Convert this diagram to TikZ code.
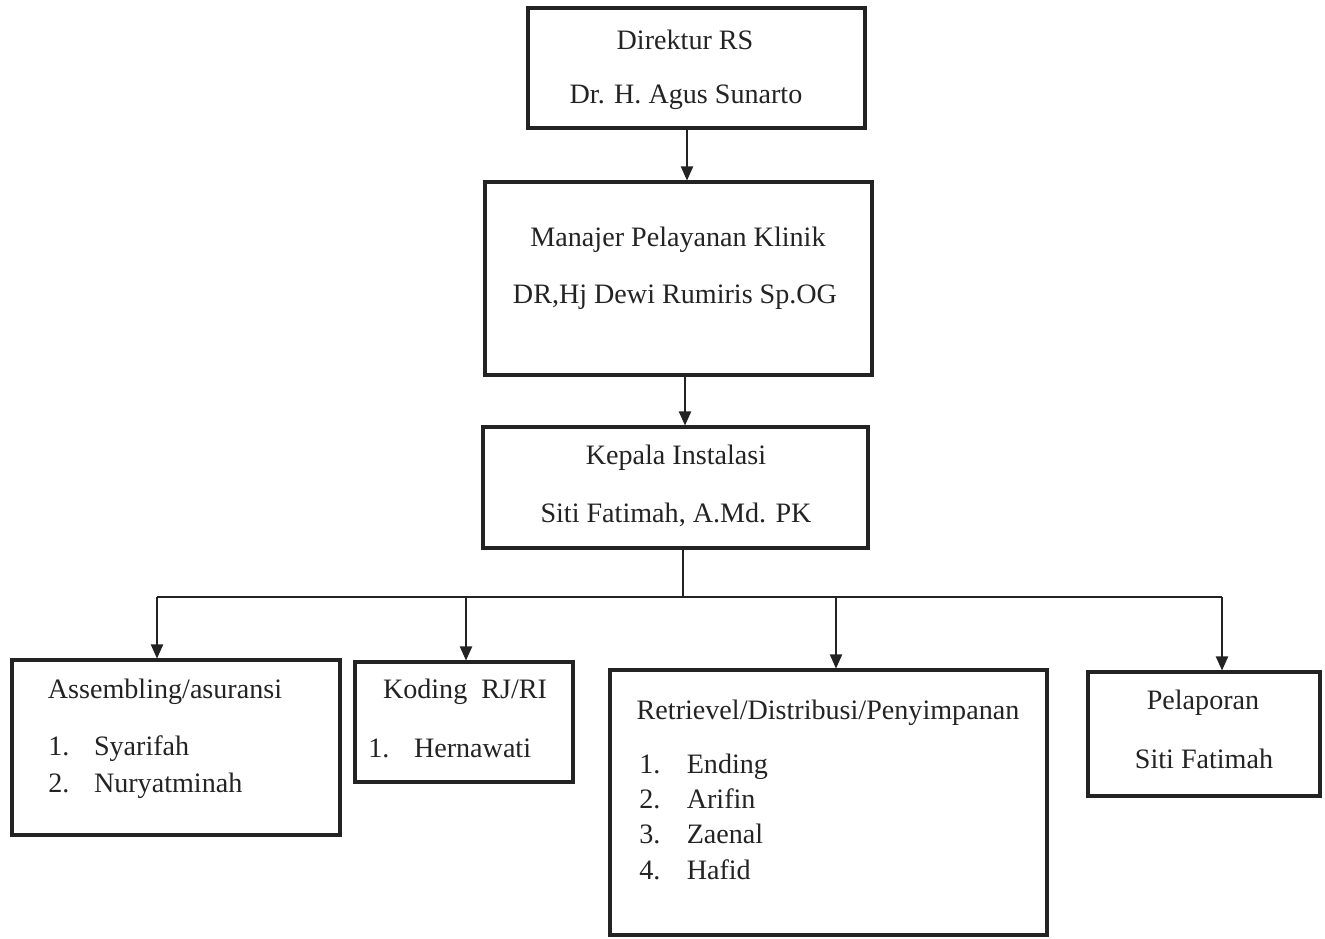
\documentclass[tikz,border=0pt]{standalone}
\usepackage{fontspec}
\setmainfont{Liberation Serif}
\usetikzlibrary{arrows.meta}
\definecolor{ink}{RGB}{35,35,35}
\tikzset{
  box/.style={draw=ink,line width=1.8pt,inner sep=0pt},
  txt/.style={text=ink,inner sep=0pt,font=\fontsize{16}{21}\selectfont},
  wire/.style={draw=ink,line width=0.8pt}
}
\begin{document}
\begin{tikzpicture}[x=0.02cm,y=-0.02cm,>={Triangle[length=8pt,width=7pt]}]
\useasboundingbox (0,0) rectangle (1325,938);
% boxes
\node[box,minimum width=6.74cm,minimum height=2.40cm] (dir) at (696.5,68) {};
\node[box,minimum width=7.74cm,minimum height=3.86cm] (man) at (678.5,278.5) {};
\node[box,minimum width=7.70cm,minimum height=2.42cm] (kep) at (675.5,487.5) {};
\node[box,minimum width=6.56cm,minimum height=3.50cm] (asm) at (176,747.5) {};
\node[box,minimum width=4.36cm,minimum height=2.40cm] (kod) at (464,722) {};
\node[box,minimum width=8.74cm,minimum height=5.30cm] (ret) at (828.5,802.5) {};
\node[box,minimum width=4.64cm,minimum height=2.48cm] (pel) at (1204,734) {};
% texts
\node[txt] (dirA) at (685,40) {Direktur RS};
\node[txt] (dirB) at (686,97) {Dr. H. Agus Sunarto};
\node[txt] (manA) at (678,240) {Manajer Pelayanan Klinik};
\node[txt] (manB) at (675,297) {DR,Hj Dewi Rumiris Sp.OG};
\node[txt] (kepA) at (676,458) {Kepala Instalasi};
\node[txt] (kepB) at (676,515) {Siti Fatimah, A.Md. PK};
\node[txt] (asmA) at (165,692) {Assembling/asuransi};
\node[txt,anchor=west] (asmB) at (48,767) {%
  \begin{tabular}{@{}l@{\hspace{14pt}}l@{}}
  1. & Syarifah\\
  2. & Nuryatminah
  \end{tabular}};
\node[txt] (kodA) at (465,692) {Koding\ \ RJ/RI};
\node[txt,anchor=west] (kodB) at (368,748) {1.\hspace{14pt}Hernawati};
\node[txt] (retA) at (828,713) {Retrievel/Distribusi/Penyimpanan};
\node[txt,anchor=west] (retB) at (639,819) {%
  \begin{tabular}{@{}l@{\hspace{15pt}}l@{}}
  1. & Ending\\[-1pt]
  2. & Arifin\\[-1pt]
  3. & Zaenal\\[-1pt]
  4. & Hafid
  \end{tabular}};
\node[txt] (pelA) at (1203,703) {Pelaporan};
\node[txt] (pelB) at (1204,759) {Siti Fatimah};
% connectors
\coordinate (d1) at (687,0);
\coordinate (d2) at (685,0);
\coordinate (bus) at (683,597);
\coordinate (b1) at (157,597);
\coordinate (b2) at (466,597);
\coordinate (b3) at (836,597);
\coordinate (b4) at (1222,597);
\draw[wire,->] (d1 |- dir.south) -- (d1 |- man.north);
\draw[wire,->] (d2 |- man.south) -- (d2 |- kep.north);
\draw[wire] (bus |- kep.south) -- (bus);
\draw[wire] (b1) -- (b4);
\foreach \b/\n in {b1/asm,b2/kod,b3/ret,b4/pel}
  \draw[wire,->] (\b) -- (\b |- \n.north);
\end{tikzpicture}
\end{document}
